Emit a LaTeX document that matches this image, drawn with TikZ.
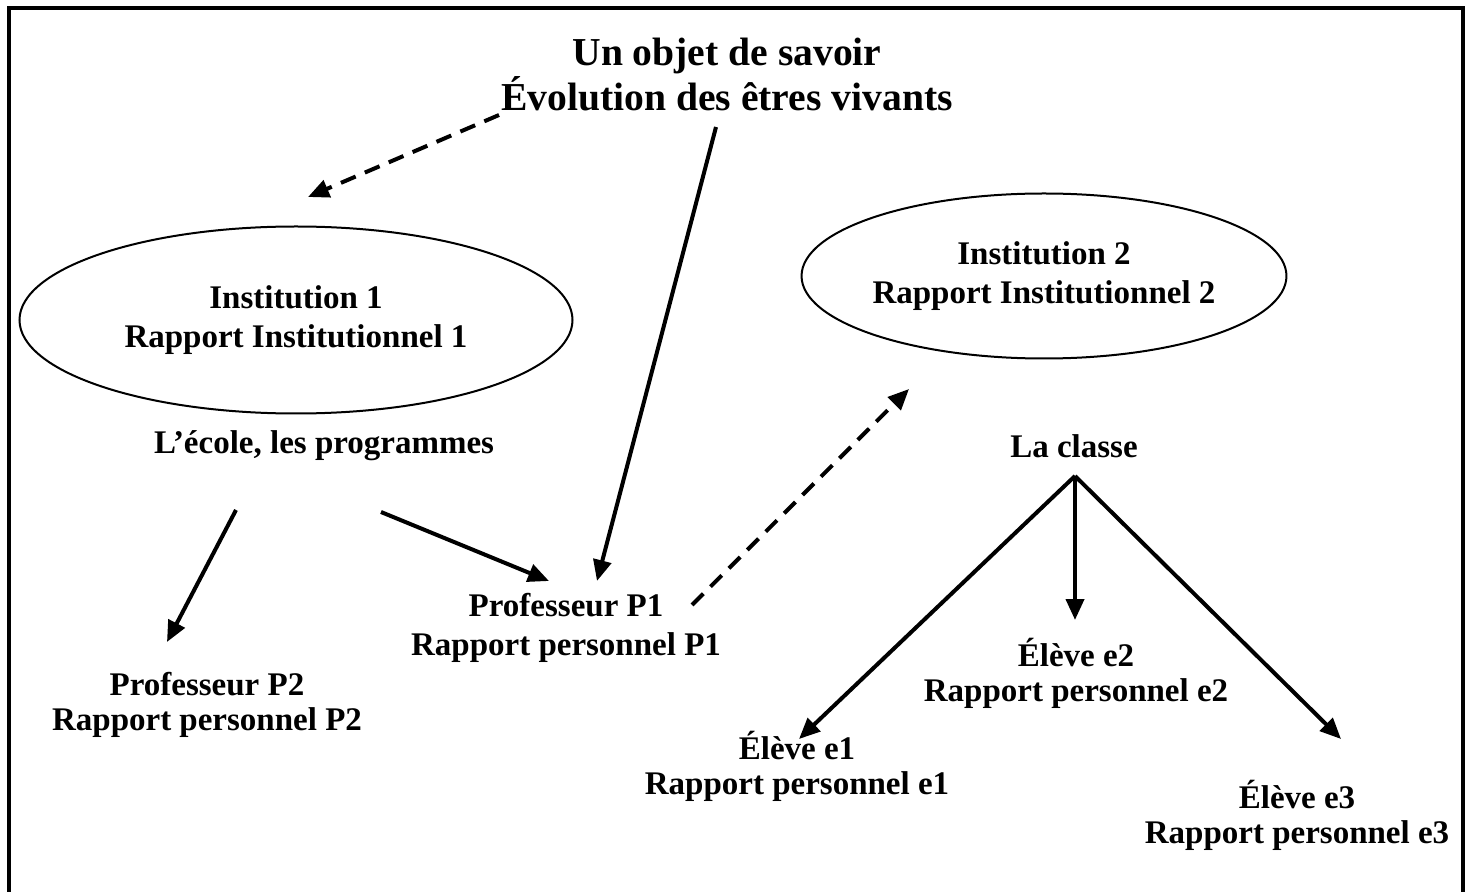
\documentclass[tikz,border=0pt]{standalone}
\usepackage{fontspec}
\setmainfont{Liberation Serif}
\usetikzlibrary{arrows.meta,shapes.geometric}
\tikzset{
  lbl/.style={font=\bfseries\fontsize{16.5}{17.5}\selectfont, align=center, inner sep=0pt},
  lblwide/.style={font=\bfseries\fontsize{16.5}{19.5}\selectfont, align=center, inner sep=0pt},
  head/.style={font=\bfseries\fontsize{19.8}{22.5}\selectfont, align=center, inner sep=0pt},
  inst/.style={ellipse, draw, line width=1pt, inner sep=0pt, align=center, font=\bfseries\fontsize{16.5}{19.5}\selectfont},
  arr/.style={line width=2pt, -{Triangle[length=10.5pt,width=9pt]}},
  darr/.style={arr, dash pattern=on 8pt off 5pt}
}
\begin{document}
\begin{tikzpicture}[x=0.5pt,y=-0.5pt]
\useasboundingbox (0,0) rectangle (1470,892);
\clip (0,0) rectangle (1470,892);
\draw[line width=2pt] (8.5,8.5) rectangle (1462.5,910);

\node[head] (savoir) at (727,75) {Un objet de savoir\\Évolution des êtres vivants};

\node[inst, minimum width=276.5pt, minimum height=93.5pt] (i1) at (296,320) {Institution 1\\Rapport Institutionnel 1};
\node[inst, minimum width=232pt, minimum height=82.5pt] (i2) at (1044,276) {Institution 2\\Rapport Institutionnel 2};

\node[lbl] (ecole) at (324,446) {L’école, les programmes};
\node[lbl] (classe) at (1074,446) {La classe};

\node[lblwide] (p1) at (566,628) {Professeur P1\\Rapport personnel P1};
\node[lbl] (p2) at (207,705) {Professeur P2\\Rapport personnel P2};
\node[lbl] (e2) at (1076,673) {Élève e2\\Rapport personnel e2};
\node[lbl] (e1) at (797,766) {Élève e1\\Rapport personnel e1};
\node[lbl] (e3) at (1297,815) {Élève e3\\Rapport personnel e3};

\coordinate (d1s) at (499,115);
\coordinate (d1e) at (308,197);
\coordinate (s1s) at (716,127);
\coordinate (s1e) at (597,581);
\coordinate (s2s) at (236,510);
\coordinate (s2e) at (167,642);
\coordinate (s3s) at (381,512);
\coordinate (s3e) at (549,581);
\coordinate (d2s) at (692,605);
\coordinate (d2e) at (909,389);
\coordinate (fork) at (1075,476);
\coordinate (te2) at (1075,620);
\coordinate (te1) at (799,739);
\coordinate (te3) at (1341,739);

\draw[darr] (d1s) -- (d1e);
\draw[arr] (s1s) -- (s1e);
\draw[arr] (s2s) -- (s2e);
\draw[arr] (s3s) -- (s3e);
\draw[darr] (d2s) -- (d2e);
\draw[arr] (fork) -- (te2);
\draw[arr] (fork) -- (te1);
\draw[arr] (fork) -- (te3);
\end{tikzpicture}
\end{document}
